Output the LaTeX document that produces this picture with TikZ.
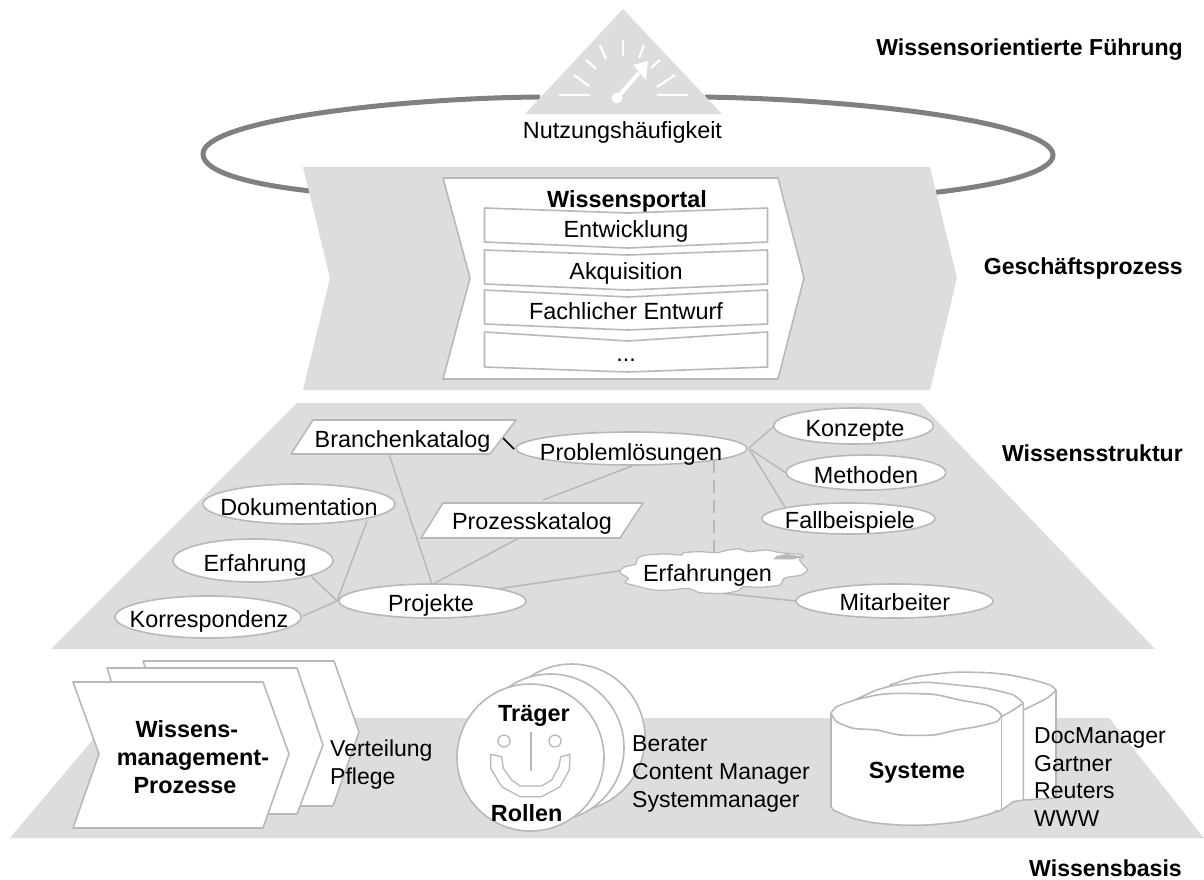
\documentclass[tikz,border=0pt]{standalone}
\usepackage{fontspec}
\setmainfont{Liberation Sans}
\definecolor{band}{HTML}{DDDDDD}
\definecolor{edge}{HTML}{B8B8B8}
\definecolor{ring}{HTML}{808080}
\tikzset{
  x=1pt,y=-1pt,
  txt/.style={font=\fontsize{23.4}{27.6}\selectfont,inner sep=0pt,anchor=base},
  listtxt/.style={font=\fontsize{23}{27.6}\selectfont,inner sep=0pt,anchor=base west},
  headtxt/.style={font=\bfseries\fontsize{23.1}{27}\selectfont,inner sep=0pt,anchor=base east},
  boldtxt/.style={font=\bfseries\fontsize{23.4}{28}\selectfont,inner sep=0pt,anchor=base},
  box/.style={draw=edge,fill=white,line width=1.6pt,line join=round},
  link/.style={draw=edge,line width=1.5pt},
  tick/.style={draw=white,line width=2.2pt},
  zoomA/.style={shift={(800,650)},x=0.33333pt,y=-0.33333pt},
  zoomB/.style={shift={(600,400)},x=0.33333pt,y=-0.33333pt},
}
\begin{document}
\begin{tikzpicture}
\useasboundingbox (0,0) rectangle (1204,879);
% ring
\draw[draw=ring,line width=5pt] (540,97) .. controls (400,98) and (203,120) .. (203,154) .. controls (203,172) and (250,185) .. (320,192);
\draw[draw=ring,line width=5pt] (705,97) .. controls (880,100) and (1053,125) .. (1053,155) .. controls (1053,172) and (1000,186) .. (920,194);
% triangle
\fill[band] (623,9) -- (722,114) -- (525,114) -- cycle;
% gauge
\draw[tick] (559,95) -- (590,95);
\draw[tick] (657,95) -- (688,95);
\draw[tick] (574,75) -- (589,86);
\draw[tick] (657,87) -- (675,75);
\draw[tick] (586,60) -- (596,69);
\draw[tick] (651,68) -- (660,60);
\draw[tick] (600,45) -- (606,59);
\draw[tick] (639,58) -- (644,45);
\draw[tick] (623,40) -- (623,56);
\fill[white] (617,98) circle (5.5);
\draw[white,line width=4pt] (617,98) -- (639,73);
\fill[white] (648,61) -- (646,80) -- (633,65) -- cycle;
\node[txt] (nutz) at (622.5,138) {Nutzungshäufigkeit};
% Geschaeftsprozess band
\fill[band] (303,167) -- (930,167) -- (957,278) -- (930,390) -- (303,390) -- (330,278) -- cycle;
\draw[box] (443,178) -- (778,178) -- (804,278) -- (778,379) -- (443,379) -- (470,278) -- cycle;
\node[boldtxt] (portal) at (627,207) {Wissensportal};
\draw[box] (484.5,208) -- (628,213) -- (767.5,208) -- (767.5,242) -- (628,248) -- (484.5,242) -- cycle;
\node[txt] (e1) at (626,237) {Entwicklung};
\draw[box] (484.5,250) -- (628,255) -- (767.5,250) -- (767.5,284) -- (628,290) -- (484.5,284) -- cycle;
\node[txt] (e2) at (626,279) {Akquisition};
\draw[box] (484.5,290) -- (628,297) -- (767.5,290) -- (767.5,324) -- (628,330) -- (484.5,324) -- cycle;
\node[txt] (e3) at (626,319) {Fachlicher Entwurf};
\draw[box] (484.5,332) -- (628,341) -- (767.5,332) -- (767.5,367) -- (628,372) -- (484.5,367) -- cycle;
\node[txt] (e4) at (626,361) {...};
% Wissensstruktur band
\fill[band] (297,403) -- (920,403) -- (1155,649) -- (51,649) -- cycle;
% links
\draw[link] (389,454) -- (432,584);
\draw[link] (433,584) -- (519,538);
\draw[link] (543,500) -- (632,466);
\draw[link] (367,521) -- (337,601);
\draw[link] (312,577) -- (337,601);
\draw[link] (303,616) -- (337,601);
\draw[link] (497,589) -- (625,570);
\draw[link] (749,448) -- (773,427);
\draw[link] (750,449) -- (786,473);
\draw[link] (749,449) -- (785,507);
\draw[link] (710,592) -- (796,601);
\draw[link,line width=2.4pt,dash pattern=on 13pt off 7pt] (714,460) -- (714,554);
\draw[black,line width=1.5pt] (501,436) -- (514,449);
% shapes
\draw[box] (313,420) -- (516,420) -- (490,454) -- (291,454) -- cycle;
\node[txt] (brk) at (402.5,447) {Branchenkatalog};
\draw[box] (631.5,448.5) ellipse [x radius=115.5,y radius=16.5];
\node[txt] (pl) at (631,460) {Problemlösungen};
\draw[box] (853.5,426) ellipse [x radius=80,y radius=18];
\node[txt] (kon) at (855,436) {Konzepte};
\draw[box] (866,472.5) ellipse [x radius=80,y radius=17.5];
\node[txt] (met) at (866,483) {Methoden};
\draw[box] (848.5,518.5) ellipse [x radius=86.5,y radius=15.5];
\node[txt] (fal) at (850,528) {Fallbeispiele};
\draw[box] (299,504) ellipse [x radius=96,y radius=20];
\node[txt] (dok) at (299,515) {Dokumentation};
\draw[box] (253,560.5) ellipse [x radius=80,y radius=21.5];
\node[txt] (erf) at (255,571) {Erfahrung};
\draw[box] (208,617) ellipse [x radius=93,y radius=21];
\node[txt] (kor) at (209,627) {Korrespondenz};
\draw[box] (432.5,601) ellipse [x radius=93.5,y radius=17];
\node[txt] (pro) at (431,611) {Projekte};
\draw[box] (894.5,601) ellipse [x radius=98.5,y radius=17];
\node[txt] (mit) at (895,610) {Mitarbeiter};
\draw[box] (443,503) -- (643,503) -- (620,538) -- (421,538) -- cycle;
\node[txt] (prk) at (532,529) {Prozesskatalog};
% cloud
\begin{scope}[zoomB]
\draw[box,line width=1.2pt] plot[smooth cycle,tension=0.45] coordinates {(62,510) (75,500) (108,492) (112,475) (140,465) (200,462) (245,465) (250,458) (300,455) (350,458) (385,450) (420,447) (445,455) (500,450) (540,458) (600,463) (612,470) (598,478) (610,495) (622,510) (605,525) (560,532) (548,540) (540,555) (480,562) (430,560) (415,572) (370,580) (300,578) (265,565) (210,570) (160,570) (110,558) (75,548) (85,535) (62,520)};
\fill[edge] (520,478) -- (530,468) -- (560,462) -- (612,470) -- (580,478) -- cycle;
\end{scope}
\node[txt] (erfn) at (707.5,581) {Erfahrungen};
% Wissensbasis band
\fill[band] (111,718) -- (1109,718) -- (1204,838) -- (10,838) -- cycle;
% chevrons
\draw[box] (143,661) -- (334,661) -- (359,732) -- (333,806) -- (143,806) -- (168,732) -- cycle;
\draw[box] (107,668) -- (297,668) -- (323,745) -- (297,814) -- (107,814) -- (132,745) -- cycle;
\draw[box] (73,682) -- (263,682) -- (289,754) -- (263,828) -- (73,828) -- (99,754) -- cycle;
\node[boldtxt] (wm1) at (187,737) {Wissens-};
\node[boldtxt] (wm2) at (193,765) {management-};
\node[boldtxt] (wm3) at (185,793) {Prozesse};
\node[listtxt] (v1) at (330,756) {Verteilung};
\node[listtxt] (v2) at (330,784) {Pflege};
% circles
\draw[box] (571.5,737.5) circle (73.5);
\draw[box] (550.5,747.5) circle (73.5);
\draw[box] (530.5,757.5) circle (73.5);
\node[boldtxt] (tr) at (534,721) {Träger};
\node[boldtxt] (ro) at (526.6,821) {Rollen};
\draw[box,line width=1.3pt] (504,741) circle (6);
\draw[box,line width=1.3pt] (555,741) circle (6);
\draw[link,line width=1.3pt] (531,732) -- (531,771);
\draw[box,line width=1.3pt] (490.7,754.3) -- (501.7,756.7) -- (503.3,768.3) -- (511.7,780) -- (520,786) -- (541.7,786) -- (551.7,780) -- (559,766.7) -- (560.7,756.7) -- (570,754.3) -- (569.3,770) -- (560,786.7) -- (541.7,796.7) -- (520,796.7) -- (501.7,786.7) -- (490.7,768.3) -- cycle;
\node[listtxt] (r1) at (632,751) {Berater};
\node[listtxt] (r2) at (632,779) {Content Manager};
\node[listtxt] (r3) at (632,807) {Systemmanager};
% cylinders
\begin{scope}[zoomA]
\draw[box] plot[smooth,tension=0.4] coordinates {(270,105) (350,80) (460,67) (560,68) (630,75) (700,90) (750,105) (768,120)} -- (768,444) -- (670,450) -- (270,450) -- cycle;
\draw[box] plot[smooth,tension=0.4] coordinates {(165,150) (230,120) (290,105) (380,97) (470,105) (560,115) (640,135) (670,160)} -- (670,450) -- (640,455) -- (605,480) -- (165,480) -- cycle;
\fill[white] (93,190) rectangle (605,480);
\fill[white] (93,190) -- (110,170) -- (165,150) -- (230,135) -- (290,130) -- (400,133) -- (480,150) -- (560,165) -- (590,180) -- (605,195) -- cycle;
\fill[white] (93,465) -- (605,470) -- (560,495) -- (480,515) -- (380,525) -- (300,525) -- (220,518) -- (160,505) -- (100,480) -- cycle;
\draw[edge,line width=1.6pt,line join=round] plot[smooth,tension=0.4] coordinates {(93,190) (110,170) (165,150) (230,135) (290,130) (400,133) (480,150) (560,165) (590,180) (605,195)};
\draw[edge,line width=1.6pt,line join=round] plot[smooth,tension=0.4] coordinates {(605,195) (590,215) (530,230) (470,240) (400,255) (300,255) (230,240) (160,235) (110,215) (93,190)};
\draw[edge,line width=1.6pt,line join=round] plot[smooth,tension=0.4] coordinates {(605,480) (560,495) (480,515) (380,525) (300,525) (220,518) (160,505) (100,480) (93,465)};
\draw[edge,line width=1.6pt] (93,190) -- (93,465);
\draw[edge,line width=1.6pt] (605,195) -- (605,480);
\draw[edge,line width=1.6pt,line join=round] plot[smooth,tension=0.4] coordinates {(768,120) (740,145) (670,180)};
\draw[edge,line width=1.6pt,line join=round] plot[smooth,tension=0.4] coordinates {(670,160) (640,180) (605,200)};
\end{scope}
\node[boldtxt] (sy) at (917,778) {Systeme};
\node[listtxt] (s1) at (1034,743) {DocManager};
\node[listtxt] (s2) at (1034,771) {Gartner};
\node[listtxt] (s3) at (1034,798) {Reuters};
\node[listtxt] (s4) at (1034,826) {WWW};
% headings
\node[headtxt] (h1) at (1183,55) {Wissensorientierte Führung};
\node[headtxt] (h2) at (1183,274) {Geschäftsprozess};
\node[headtxt] (h3) at (1183,461) {Wissensstruktur};
\node[headtxt] (h4) at (1182,876) {Wissensbasis};
\end{tikzpicture}
\end{document}
